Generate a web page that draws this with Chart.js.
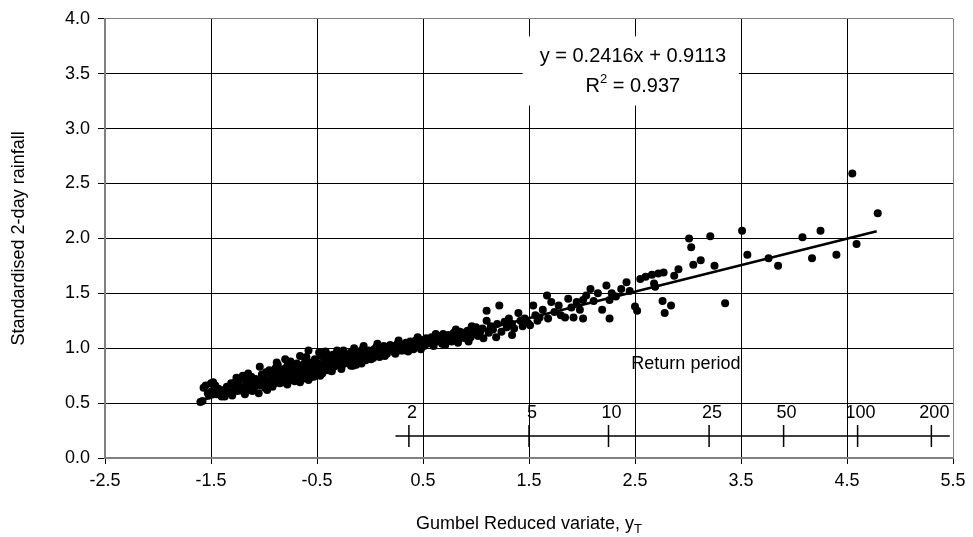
<!DOCTYPE html>
<html>
<head>
<meta charset="utf-8">
<script src="https://cdn.jsdelivr.net/npm/chart.js@4.4.1/dist/chart.umd.min.js"></script>
<style>
    html, body { margin: 0; padding: 0; background: #fff; }
</style>
</head>
<body>
<canvas id="plot" width="973" height="537"></canvas>
<script>
// Gumbel reduced variate (x) and standardised 2-day rainfall (y)
const gumbelX = [
    -1.60, -1.58, -1.57, -1.55, -1.53, -1.52, -1.50, -1.49, -1.48, -1.46,
    -1.45, -1.43, -1.41, -1.40, -1.38, -1.37, -1.35, -1.33, -1.31, -1.30,
    -1.28, -1.27, -1.25, -1.24, -1.22, -1.21, -1.20, -1.19, -1.17, -1.16,
    -1.14, -1.13, -1.12, -1.10, -1.09, -1.08, -1.06, -1.05, -1.04, -1.03,
    -1.02, -1.01, -1.00,
    -0.99, -0.98, -0.97, -0.96, -0.95, -0.94, -0.93, -0.92, -0.91, -0.90,
    -0.89, -0.88, -0.87, -0.86, -0.85, -0.84, -0.83, -0.82, -0.81, -0.80,
    -0.79, -0.78, -0.77, -0.76, -0.75, -0.75, -0.74, -0.73, -0.72, -0.71,
    -0.70, -0.69, -0.68, -0.67, -0.66, -0.65, -0.64, -0.63, -0.62, -0.61,
    -0.60, -0.59, -0.58, -0.58, -0.57, -0.56, -0.55, -0.54, -0.53, -0.52,
    -0.51, -0.50,
    -0.49, -0.48, -0.47, -0.46, -0.45, -0.44, -0.43, -0.42, -0.41, -0.40,
    -0.39, -0.38, -0.38, -0.37, -0.36, -0.35, -0.34, -0.33, -0.32, -0.31,
    -0.30, -0.29, -0.28, -0.27, -0.26, -0.25, -0.24, -0.23, -0.22, -0.21,
    -0.20, -0.19, -0.18, -0.17, -0.16, -0.15, -0.14, -0.13, -0.12, -0.11,
    -0.10, -0.09, -0.08, -0.07, -0.06, -0.05, -0.04, -0.03, -0.02, -0.01,
    0.00,
    0.01, 0.02, 0.04, 0.05, 0.06, 0.08, 0.09, 0.10, 0.12, 0.13,
    0.15, 0.16, 0.18, 0.19, 0.20, 0.22, 0.23, 0.25, 0.26, 0.28,
    0.29, 0.31, 0.32, 0.34, 0.35, 0.37, 0.38, 0.40, 0.41, 0.43,
    0.44, 0.46, 0.47, 0.49, 0.50, 0.51,
    0.53, 0.54, 0.56, 0.58, 0.59, 0.61, 0.63, 0.64, 0.66, 0.68,
    0.69, 0.70, 0.72, 0.74, 0.75, 0.77, 0.79, 0.80, 0.82, 0.84,
    0.85, 0.87, 0.89, 0.90, 0.92, 0.94, 0.95, 0.97, 0.99, 1.00,
    1.02, 1.04, 1.06, 1.07,
    1.10, 1.10, 1.12, 1.14, 1.16, 1.19, 1.20, 1.22, 1.24, 1.27,
    1.29, 1.31, 1.34, 1.34, 1.36, 1.40, 1.42, 1.44, 1.46, 1.49,
    1.51, 1.54, 1.56, 1.58, 1.60, 1.63, 1.67, 1.68, 1.71, 1.74,
    1.78, 1.80, 1.84, 1.87, 1.90, 1.92, 1.95, 1.98, 2.01, 2.01,
    2.04, 2.08, 2.11, 2.15, 2.19, 2.23, 2.26, 2.26, 2.28, 2.32,
    2.37, 2.42, 2.45, 2.50, 2.52, 2.55,
    2.60, 2.66, 2.68, 2.69, 2.72, 2.76, 2.77, 2.78, 2.84, 2.87,
    2.91, 3.01, 3.03, 3.05, 3.12, 3.21, 3.25, 3.35, 3.51, 3.56,
    3.76, 3.85, 4.08, 4.17, 4.25, 4.40, 4.55, 4.59, 4.79,
    -1.18, -1.11, -0.97, -0.92, -0.85, -0.78, -0.71, -0.64, -0.57, -0.45,
    -0.36, -0.27, -0.18, -0.08, 0.03, 0.14, 0.24, 0.36, 0.48, 0.60,
    0.71, 0.83, 0.93,
    -1.26, -1.15, -0.88, -0.80, -0.66, -0.48, -0.42, -0.15, 0.07, 0.27,
    0.45, 0.62, 0.81, 0.96
];
const rainfall = [
    0.51, 0.52, 0.64, 0.66, 0.59, 0.57, 0.68, 0.61, 0.69, 0.66,
    0.58, 0.63, 0.60, 0.56, 0.62, 0.56, 0.65, 0.60, 0.68, 0.57,
    0.63, 0.69, 0.61, 0.66, 0.72, 0.64, 0.75, 0.60, 0.67, 0.71,
    0.63, 0.62, 0.74, 0.68, 0.65, 0.72, 0.70, 0.59, 0.83, 0.66,
    0.76, 0.69, 0.73,
    0.64, 0.78, 0.70, 0.67, 0.80, 0.66, 0.74, 0.71, 0.77, 0.68,
    0.82, 0.72, 0.85, 0.70, 0.76, 0.79, 0.73, 0.69, 0.81, 0.75,
    0.72, 0.84, 0.78, 0.71, 0.88, 0.71, 0.80, 0.76, 0.83, 0.74,
    0.79, 0.86, 0.77, 0.72, 0.69, 0.82, 0.78, 0.85, 0.75, 0.89,
    0.92, 0.80, 0.98, 0.71, 0.84, 0.77, 0.87, 0.81, 0.74, 0.90,
    0.83, 0.78,
    0.86, 0.80, 0.75, 0.93, 0.84, 0.79, 0.89, 0.82, 0.95, 0.86,
    0.80, 0.91, 0.80, 0.84, 0.88, 0.94, 0.83, 0.87, 0.90, 0.98,
    0.85, 0.92, 0.88, 0.83, 0.95, 0.98, 0.86, 0.91, 0.89, 0.94,
    0.87, 0.92, 0.96, 0.89, 0.84, 0.93, 0.90, 0.85, 0.97, 0.92,
    0.88, 0.95, 0.91, 0.99, 1.02, 0.93, 0.89, 0.96, 0.92, 0.98,
    0.94,
    0.90, 0.97, 0.99, 0.93, 1.01, 0.96, 0.92, 1.00, 0.97, 1.02,
    0.99, 0.95, 1.01, 1.03, 0.98, 1.02, 0.96, 1.00, 1.04, 1.01,
    0.98, 0.98, 1.03, 1.05, 1.00, 1.02, 1.06, 1.03, 0.99, 1.07,
    1.04, 1.01, 1.08, 1.05, 1.07, 1.02,
    1.09, 1.04, 1.07, 1.10, 1.05, 1.08, 1.06, 1.11, 1.08, 1.04,
    1.13, 1.10, 1.07, 1.12, 1.09, 1.06, 1.14, 1.10, 1.12, 1.08,
    1.15, 1.11, 1.14, 1.09, 1.16, 1.12, 1.10, 1.17, 1.13, 1.19,
    1.11, 1.15, 1.18, 1.09,
    1.34, 1.25, 1.14, 1.20, 1.17, 1.10, 1.22, 1.39, 1.15, 1.24,
    1.19, 1.27, 1.22, 1.12, 1.18, 1.32, 1.25, 1.20, 1.27, 1.23,
    1.21, 1.39, 1.30, 1.25, 1.28, 1.35, 1.48, 1.27, 1.42, 1.33,
    1.39, 1.30, 1.28, 1.45, 1.37, 1.28, 1.42, 1.35, 1.44, 1.27,
    1.48, 1.54, 1.43, 1.50, 1.35, 1.57, 1.44, 1.27, 1.50, 1.47,
    1.54, 1.60, 1.52, 1.38, 1.34, 1.63,
    1.65, 1.67, 1.59, 1.56, 1.68, 1.43, 1.69, 1.32, 1.39, 1.66,
    1.72, 2.00, 1.92, 1.76, 1.80, 2.02, 1.75, 1.41, 2.07, 1.85,
    1.82, 1.75, 2.01, 1.82, 2.07, 1.85, 2.59, 1.95, 2.23,
    0.58, 0.61, 0.62, 0.65, 0.68, 0.67, 0.70, 0.72, 0.73, 0.77,
    0.79, 0.81, 0.84, 0.86, 0.91, 0.93, 0.95, 0.97, 0.99, 1.02,
    1.03, 1.05, 1.06,
    0.73, 0.77, 0.87, 0.90, 0.93, 0.96, 0.97, 1.00, 1.04, 1.07,
    1.10, 1.13, 1.17, 1.20
];

const xTickValues = [-2.5, -1.5, -0.5, 0.5, 1.5, 2.5, 3.5, 4.5, 5.5];

// fitted trendline, as printed on the chart
const trendSlope = 0.2416;
const trendIntercept = 0.9113;
const trendRsq = '0.937';
const trendFrom = -1.58;
const trendTo = 4.78;

// return period scale drawn inside the plot
const returnPeriods = ['2', '5', '10', '25', '50', '100', '200'];
const returnPeriodX = [0.367, 1.500, 2.250, 3.199, 3.902, 4.600, 5.296];
const returnAxisFrom = 0.24;
const returnAxisTo = 5.47;

const FONT = '"Liberation Sans", Arial, sans-serif';
const AXIS_GRAY = '#808080';


function trendValue(x) {
    return trendSlope * x + trendIntercept;
}

function buildDatasets() {
    const observations = gumbelX.map((x, i) => ({ x: x, y: rainfall[i] }));
    const level = 0.2;

    const datasets = [{
        label: 'trend',
        data: [
            { x: trendFrom, y: trendValue(trendFrom) },
            { x: trendTo, y: trendValue(trendTo) }
        ],
        showLine: true,
        borderColor: '#000',
        borderWidth: 2.6,
        pointRadius: 0
    }, {
        label: 'return axis',
        data: [{ x: returnAxisFrom, y: level }, { x: returnAxisTo, y: level }],
        showLine: true,
        borderColor: '#000',
        borderWidth: 1.5,
        pointRadius: 0
    }];

    returnPeriodX.forEach(x => {
        datasets.push({
            label: 'tick',
            data: [{ x: x, y: level - 0.1 }, { x: x, y: level + 0.1 }],
            showLine: true,
            borderColor: '#000',
            borderWidth: 1.5,
            pointRadius: 0
        });
    });

    datasets.push({
        label: 'observed',
        data: observations,
        backgroundColor: '#000',
        borderWidth: 0,
        pointRadius: 4
    });
    return datasets;
}

function gridColor(edgeValue) {
    return ctx => (ctx.tick && ctx.tick.value === edgeValue) ? AXIS_GRAY : '#000';
}

const annotations = {
    id: 'annotations',
    beforeDatasetsDraw(chart) {
        const { ctx, scales: { x, y } } = chart;
        // white box behind the equation
        ctx.save();
        ctx.fillStyle = '#fff';
        const left = x.getPixelForValue(1.44);
        const right = x.getPixelForValue(3.48);
        const top = y.getPixelForValue(3.84);
        const bottom = y.getPixelForValue(3.21);
        ctx.fillRect(left, top, right - left, bottom - top);
        ctx.restore();
    },
    afterDatasetsDraw(chart) {
        const { ctx, scales: { x, y } } = chart;
        ctx.save();
        ctx.fillStyle = '#000';

        // equation
        ctx.font = '20px ' + FONT;
        ctx.textAlign = 'center';
        ctx.textBaseline = 'middle';
        const cx = x.getPixelForValue(2.48);
        ctx.fillText('y = ' + trendSlope + 'x + ' + trendIntercept, cx, y.getPixelForValue(3.66));

        const rest = ' = ' + trendRsq;
        const wR = ctx.measureText('R').width;
        const wRest = ctx.measureText(rest).width;
        ctx.font = '13px ' + FONT;
        const wSup = ctx.measureText('2').width;
        let start = cx - (wR + wSup + wRest) / 2;
        const ry = y.getPixelForValue(3.38);
        ctx.textAlign = 'left';
        ctx.font = '20px ' + FONT;
        ctx.fillText('R', start, ry);
        ctx.font = '13px ' + FONT;
        ctx.fillText('2', start + wR, ry - 7);
        ctx.font = '20px ' + FONT;
        ctx.fillText(rest, start + wR + wSup, ry);

        // return period labels
        ctx.font = '18px ' + FONT;
        ctx.textAlign = 'center';
        ctx.textBaseline = 'bottom';
        returnPeriods.forEach((label, i) => {
            ctx.fillText(label, x.getPixelForValue(returnPeriodX[i]) + 3, y.getPixelForValue(0.33));
        });
        ctx.textBaseline = 'middle';
        ctx.fillText('Return period', x.getPixelForValue(2.98), y.getPixelForValue(0.86));

        // x axis title with subscript
        const main = 'Gumbel Reduced variate, y';
        const wMain = ctx.measureText(main).width;
        ctx.font = '13px ' + FONT;
        const wSub = ctx.measureText('T').width;
        const tx = (chart.chartArea.left + chart.chartArea.right) / 2 - (wMain + wSub) / 2;
        ctx.textAlign = 'left';
        ctx.textBaseline = 'alphabetic';
        ctx.font = '18px ' + FONT;
        ctx.fillText(main, tx, 529);
        ctx.font = '13px ' + FONT;
        ctx.fillText('T', tx + wMain, 533);
        ctx.restore();
    }
};

const chartObject = new Chart(document.getElementById('plot').getContext('2d'), {
    type: 'scatter',
    data: { datasets: buildDatasets() },
    options: {
        responsive: false,
        animation: false,
        layout: { padding: { top: 18, right: 20, left: 0, bottom: 0 } },
        plugins: {
            legend: { display: false },
            tooltip: { enabled: false }
        },
        scales: {
            x: {
                type: 'linear',
                min: -2.5,
                max: 5.5,
                afterBuildTicks: scale => {
                    scale.ticks = xTickValues.map(v => ({ value: v }));
                },
                afterFit: scale => { scale.height = 79; },
                grid: {
                    color: gridColor(5.5),
                    lineWidth: 1,
                    tickLength: 6,
                    tickColor: '#000'
                },
                border: { color: AXIS_GRAY, width: 2 },
                ticks: {
                    color: '#000',
                    font: { family: FONT, size: 18 },
                    padding: 6,
                    maxRotation: 0,
                    callback: v => v.toFixed(1)
                }
            },
            y: {
                type: 'linear',
                min: 0,
                max: 4,
                afterFit: scale => { scale.width = 105; },
                grid: {
                    color: gridColor(4),
                    lineWidth: 1,
                    tickLength: 7,
                    tickColor: '#000'
                },
                border: { color: AXIS_GRAY, width: 2 },
                ticks: {
                    stepSize: 0.5,
                    color: '#000',
                    font: { family: FONT, size: 18 },
                    padding: 8,
                    callback: v => v.toFixed(1)
                },
                title: {
                    display: true,
                    text: 'Standardised 2-day rainfall',
                    color: '#000',
                    font: { family: FONT, size: 18 },
                    padding: { top: 8, bottom: 0 }
                }
            }
        }
    },
    plugins: [annotations]
});
</script>
</body>
</html>
